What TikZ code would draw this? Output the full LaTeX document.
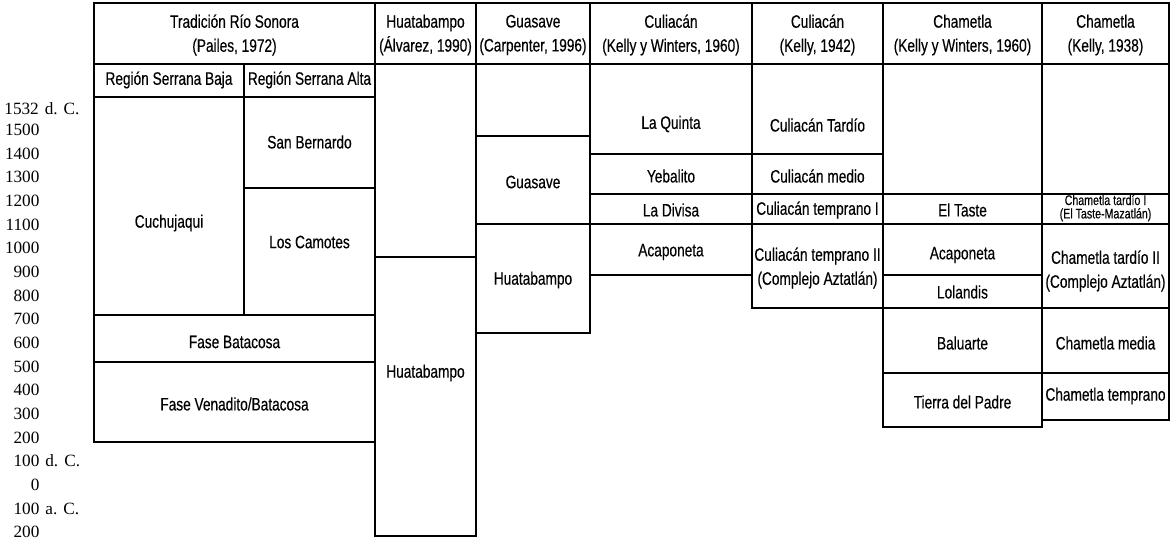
\documentclass[tikz,border=0pt]{standalone}
\usepackage{fontspec}
\setmainfont{Liberation Serif}
\setsansfont[FakeStretch=0.76,FakeBold=0.35]{Liberation Sans}
\usepackage{tikz}

\tikzset{
  cell/.style={line width=1.1pt},
  lbl/.style={font=\sffamily\fontsize{9}{12}\selectfont, align=center, inner sep=0pt},
  small/.style={font=\sffamily\fontsize{7}{6.7}\selectfont, align=center, inner sep=0pt},
  yr/.style={font=\rmfamily\fontsize{8.6}{10}\selectfont, anchor=west, inner sep=0pt}
}

\begin{document}
\begin{tikzpicture}[x=0.5pt,y=-0.5pt]

  \useasboundingbox (0,0) rectangle (1171,542);

  % cells: left/top/right/bottom
  \foreach \xa/\ya/\xb/\yb in {94/3/375/64, 375/3/476/64, 476/3/590/64, 590/3/752/64,
      752/3/883/64, 883/3/1042/64, 1042/3/1169/64,
      94/64/244/97, 244/64/375/97,
      94/97/244/315, 244/97/375/188, 244/188/375/315, 94/315/375/362, 94/362/375/442,
      375/64/476/257, 375/257/476/536,
      476/64/590/136, 476/136/590/224, 476/224/590/333,
      590/64/752/154, 590/154/752/194, 590/194/752/224, 590/224/752/275,
      752/64/883/154, 752/154/883/194, 752/194/883/224, 752/224/883/308,
      883/64/1042/194, 883/194/1042/224, 883/224/1042/275, 883/275/1042/308,
      883/308/1042/373, 883/373/1042/427,
      1042/64/1169/194, 1042/194/1169/224, 1042/224/1169/308, 1042/308/1169/373,
      1042/373/1169/420}
    \draw[cell] (\xa,\ya) rectangle (\xb,\yb);

  % headers
  \node[lbl] (trad) at (234.5,35) {Tradición Río Sonora\\(Pailes, 1972)};
  \node[lbl] (huahead) at (425.5,35) {Huatabampo\\(Álvarez, 1990)};
  \node[lbl] (guahead) at (533,35) {Guasave\\(Carpenter, 1996)};
  \node[lbl] (culkw) at (671,35) {Culiacán\\(Kelly y Winters, 1960)};
  \node[lbl] (culk) at (817.5,35) {Culiacán\\(Kelly, 1942)};
  \node[lbl] (chakw) at (962.5,35) {Chametla\\(Kelly y Winters, 1960)};
  \node[lbl] (chak) at (1105.5,35) {Chametla\\(Kelly, 1938)};
  \node[lbl] (baja) at (169,80) {Región Serrana Baja};
  \node[lbl] (alta) at (309.5,80) {Región Serrana Alta};

  % Rio Sonora
  \node[lbl] (cuchu) at (169,223) {Cuchujaqui};
  \node[lbl] (sanb) at (309.5,142) {San Bernardo};
  \node[lbl] (camotes) at (309.5,242) {Los Camotes};
  \node[lbl] (batacosa) at (234.5,342) {Fase Batacosa};
  \node[lbl] (venadito) at (234.5,404) {Fase Venadito/Batacosa};

  % Huatabampo, Guasave
  \node[lbl] (huaA) at (425.5,373) {Huatabampo};
  \node[lbl] (guas) at (533,182) {Guasave};
  \node[lbl] (huaG) at (533,280) {Huatabampo};

  % Culiacan
  \node[lbl] (quinta) at (671,124) {La Quinta};
  \node[lbl] (yeba) at (671,176) {Yebalito};
  \node[lbl] (divisa) at (671,210) {La Divisa};
  \node[lbl] (acapcul) at (671,252) {Acaponeta};
  \node[lbl] (tardio) at (817.5,125) {Culiacán Tardío};
  \node[lbl] (medio) at (817.5,176) {Culiacán medio};
  \node[lbl] (tempI) at (817.5,210) {Culiacán temprano I};
  \node[lbl] (tempII) at (817.5,268) {Culiacán temprano II\\(Complejo Aztatlán)};

  % Chametla
  \node[lbl] (taste) at (962.5,210) {El Taste};
  \node[lbl] (acapcha) at (962.5,255) {Acaponeta};
  \node[lbl] (lolandis) at (962.5,292) {Lolandis};
  \node[lbl] (baluarte) at (962.5,343) {Baluarte};
  \node[lbl] (tierra) at (962.5,402) {Tierra del Padre};
  \node[small] (chaI) at (1105.5,208) {Chametla tardío I\\(El Taste-Mazatlán)};
  \node[lbl] (chaII) at (1105.5,271) {Chametla tardío II\\(Complejo Aztatlán)};
  \node[lbl] (chamedia) at (1105.5,343) {Chametla media};
  \node[lbl] (chatemp) at (1105.5,396) {Chametla temprano};

  % years
  \node[yr] (yrtop) at (4,109) {1532\hspace{3pt}d.\hspace{3pt}C.};
  \foreach \num/\sfx [count=\k from 0] in {1500/{},1400/{},1300/{},1200/{},1100/{},1000/{},
      900/{},800/{},700/{},600/{},500/{},400/{},300/{},200/{},
      100/{\hspace{3pt}d.\hspace{3pt}C.},0/{},100/{\hspace{3pt}a.\hspace{3pt}C.},200/{}}
    \node[yr] (yr\k) at (4,{130+23.65*\k}) {\makebox[17.5pt][r]{\num}\sfx};

\end{tikzpicture}
\end{document}
